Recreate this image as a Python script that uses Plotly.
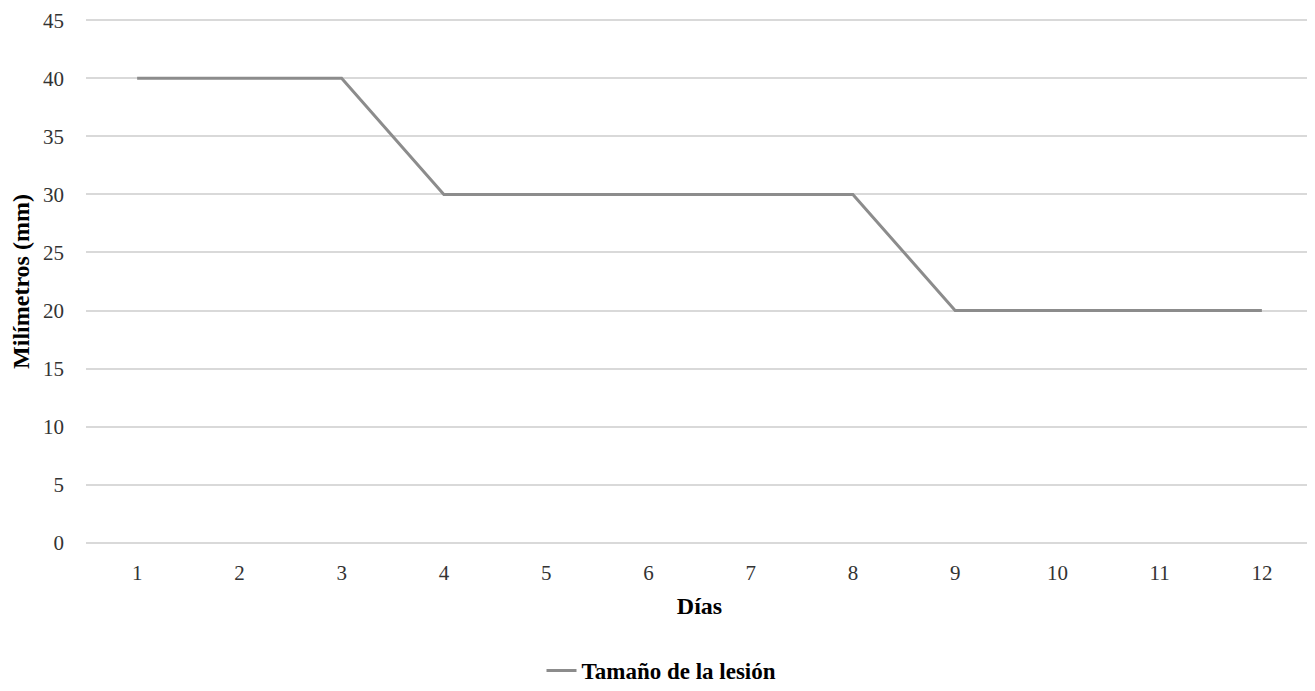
import plotly.graph_objects as go

dias = [1, 2, 3, 4, 5, 6, 7, 8, 9, 10, 11, 12]
tamano_mm = [40, 40, 40, 30, 30, 30, 30, 30, 20, 20, 20, 20]
serie_nombre = "Tamaño de la lesión"
y_ticks = [0, 5, 10, 15, 20, 25, 30, 35, 40, 45]

FONT = "Liberation Serif, Times New Roman, serif"

fig = go.Figure()
fig.add_trace(go.Scatter(
    x=dias, y=tamano_mm, mode="lines", name=serie_nombre,
    line=dict(color="#8c8c8c", width=3),
))

fig.update_layout(
    width=1307, height=683,
    margin=dict(l=78, r=2, t=11, b=147),
    paper_bgcolor="white", plot_bgcolor="white",
    font=dict(family=FONT, size=21, color="#333333"),
    showlegend=True,
    legend=dict(orientation="h", xref="container", yref="container",
                x=0.5, xanchor="center", y=0.03, yanchor="middle",
                font=dict(family=FONT, size=23, color="#000000", weight="bold")),
    xaxis=dict(
        range=[0.5, 12.5], tickmode="array", tickvals=dias, ticktext=[str(d) for d in dias],
        showgrid=False, zeroline=False, showline=False, ticks="", automargin=False,
        ticklabelstandoff=14,
        tickfont=dict(family=FONT, size=21, color="#333333"),
        title=dict(text="<b>Días</b>", standoff=13, font=dict(family=FONT, size=24, color="#000000")),
    ),
    yaxis=dict(
        range=[-0.1, 45.1], tickmode="array", tickvals=y_ticks,
        showgrid=True, gridcolor="#d9d9d9", gridwidth=1.5, zeroline=False, showline=False, ticks="",
        automargin=False,
        ticklabelstandoff=21,
        tickfont=dict(family=FONT, size=21, color="#333333"),
        title=dict(text="<b>Milímetros (mm)</b>", standoff=12, font=dict(family=FONT, size=24, color="#000000")),
    ),
)

fig.write_html("out.html")
